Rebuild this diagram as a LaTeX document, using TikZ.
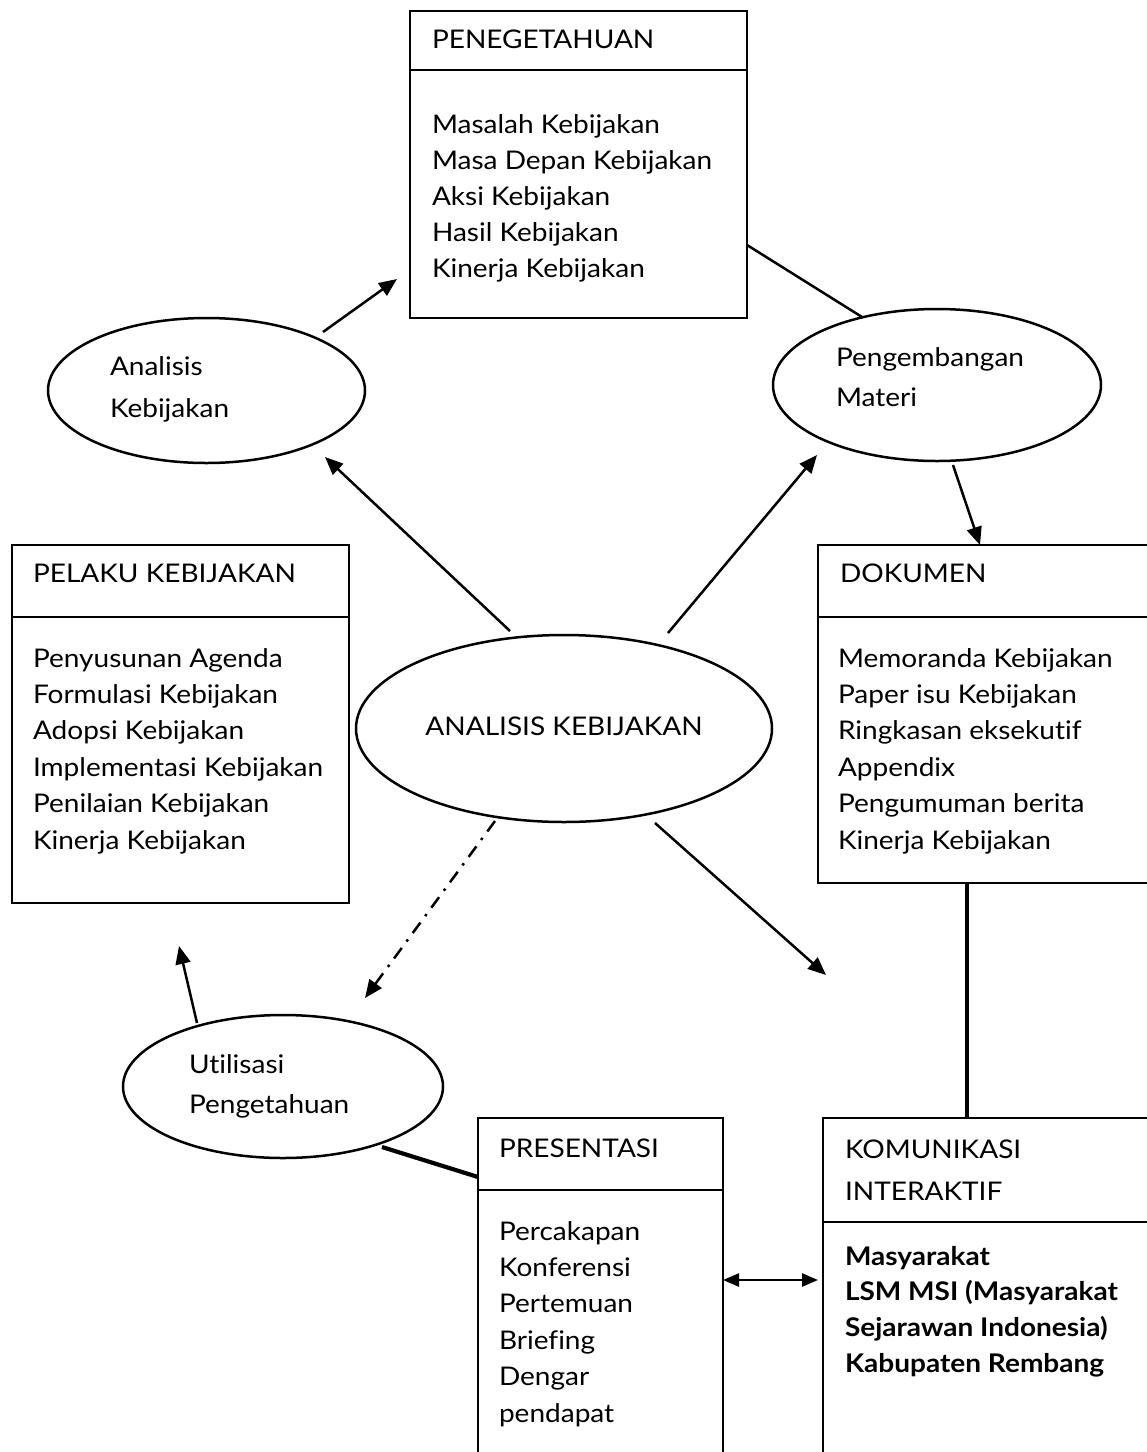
\documentclass[tikz,border=0pt]{standalone}
\usepackage{fontspec}
\setmainfont{Lato}[Ligatures=NoCommon, FakeStretch=1.09]
\usetikzlibrary{shapes.geometric,arrows.meta,calc}

\newcommand\lblfont{\fontsize{25.7}{36}\selectfont}

\tikzset{
  box/.style={draw, rectangle, line width=2.8pt, inner sep=0pt, outer sep=0pt, anchor=north west},
  oval/.style={draw, ellipse, line width=2.5pt, inner sep=0pt, outer sep=0pt},
  rule/.style={line width=2.8pt},
  lbl/.style={anchor=base west, inner sep=0pt, outer sep=0pt, font=\lblfont},
  conn/.style={line width=2.5pt},
  heavy/.style={line width=4.2pt},
  arr/.style={conn, -{Triangle[length=18pt,width=15pt]}},
  dbl/.style={conn, {Triangle[length=16pt,width=13pt]}-{Triangle[length=16pt,width=13pt]}},
  dashdot/.style={conn, dash pattern=on 13pt off 8pt on 2.5pt off 8pt, -{Triangle[length=18pt,width=15pt]}},
}

\begin{document}
\begin{tikzpicture}[x=1pt,y=-1pt]
\useasboundingbox (0,0) rectangle (1147,1452);
\fill[white] (0,0) rectangle (1147,1452);
\clip (0,0) rectangle (1147,1452);

% ---- rectangular boxes ----
\node[box, minimum width=337pt, minimum height=307pt] (peng) at (410,11) {};
\node[box, minimum width=337pt, minimum height=358pt] (pel) at (12,545) {};
\node[box, minimum width=360pt, minimum height=338pt] (dok) at (818,545) {};
\node[box, minimum width=245pt, minimum height=380pt] (pre) at (478,1118) {};
\node[box, minimum width=360pt, minimum height=380pt] (kom) at (823,1118) {};

% title separators
\draw[rule] ($(peng.north west)+(0,59)$) -- ($(peng.north east)+(0,59)$);
\draw[rule] ($(pel.north west)+(0,72)$) -- ($(pel.north east)+(0,72)$);
\draw[rule] ($(dok.north west)+(0,72)$) -- ($(dok.north east)+(0,72)$);
\draw[rule] ($(pre.north west)+(0,72)$) -- ($(pre.north east)+(0,72)$);
\draw[rule] ($(kom.north west)+(0,104)$) -- ($(kom.north east)+(0,104)$);

% ---- ellipses ----
\node[oval, minimum width=317pt, minimum height=145pt] (ana) at (206.5,390.5) {};
\node[oval, minimum width=328pt, minimum height=152pt] (pgm) at (937,385) {};
\node[oval, minimum width=416pt, minimum height=187pt] (cen) at (564,728.5) {};
\node[oval, minimum width=320pt, minimum height=143pt] (uti) at (283,1086.5) {};

% ---- texts ----
\node[lbl] (pengT) at (432,48) {PENEGETAHUAN};
\foreach \t [count=\i from 0] in {Masalah Kebijakan, Masa Depan Kebijakan, Aksi Kebijakan, Hasil Kebijakan, Kinerja Kebijakan}
  \node[lbl] (pengI\i) at (432,133+36*\i) {\t};

\node[lbl] (pelT) at (33,582) {PELAKU KEBIJAKAN};
\foreach \t [count=\i from 0] in {Penyusunan Agenda, Formulasi Kebijakan, Adopsi Kebijakan, Implementasi Kebijakan, Penilaian Kebijakan, Kinerja Kebijakan}
  \node[lbl] (pelI\i) at (33,667+36.4*\i) {\t};

\node[lbl] (dokT) at (840,582) {DOKUMEN};
\foreach \t [count=\i from 0] in {Memoranda Kebijakan, Paper isu Kebijakan, Ringkasan eksekutif, Appendix, Pengumuman berita, Kinerja Kebijakan}
  \node[lbl] (dokI\i) at (838,667+36.4*\i) {\t};

\node[lbl] (anaA) at (110,375) {Analisis};
\node[lbl] (anaB) at (110,417) {Kebijakan};

\node[lbl] (pgmA) at (836,366) {Pengembangan};
\node[lbl] (pgmB) at (836,406) {Materi};

\node[lbl, anchor=base] (cenT) at (564,735) {ANALISIS KEBIJAKAN};

\node[lbl] (utiA) at (189,1073) {Utilisasi};
\node[lbl] (utiB) at (189,1113) {Pengetahuan};

\node[lbl] (preT) at (499,1157) {PRESENTASI};
\foreach \t [count=\i from 0] in {Percakapan, Konferensi, Pertemuan, Briefing, Dengar, pendapat}
  \node[lbl] (preI\i) at (499,1240+36.4*\i) {\t};

\node[lbl] (komA) at (845,1158) {KOMUNIKASI};
\node[lbl] (komB) at (845,1200) {INTERAKTIF};
\foreach \t [count=\i from 0] in {Masyarakat, LSM MSI (Masyarakat, Sejarawan Indonesia), Kabupaten Rembang}
  \node[lbl, font=\lblfont\bfseries] (komI\i) at (845,1265+35.7*\i) {\t};

% ---- connectors ----
\draw[arr] ($(ana.center)+(116.5,-58.5)$) -- ($(peng.center)+(-181.5,114.5)$);
\draw[conn] ($(peng.east)+(0,80.5)$) -- ($(pgm.center)+(-75,-68)$);
\draw[arr] ($(cen.center)+(-54,-97.5)$) -- ($(ana.center)+(118.5,66.5)$);
\draw[arr] ($(cen.center)+(104,-95.5)$) -- ($(pgm.center)+(-120,70)$);
\draw[arr] ($(pgm.center)+(16,80)$) -- ($(dok.north west)+(162,0)$);
\draw[arr] ($(cen.center)+(91,94.5)$) -- ($(kom.north west)+(3,-143)$);
\draw[dashdot] ($(cen.center)+(-69,92.5)$) -- ($(uti.center)+(82,-88.5)$);
\draw[arr] ($(uti.center)+(-86,-63.5)$) -- ($(pel.south west)+(167,43)$);
\draw[heavy] ($(uti.center)+(99,60.5)$) -- ($(pre.north west)+(0,59)$);
\draw[heavy] ($(dok.south west)+(149,0)$) -- ($(kom.north west)+(144,0)$);
\draw[dbl] ($(pre.north east)+(0,162)$) -- ($(kom.north west)+(-5,162)$);
\end{tikzpicture}
\end{document}
